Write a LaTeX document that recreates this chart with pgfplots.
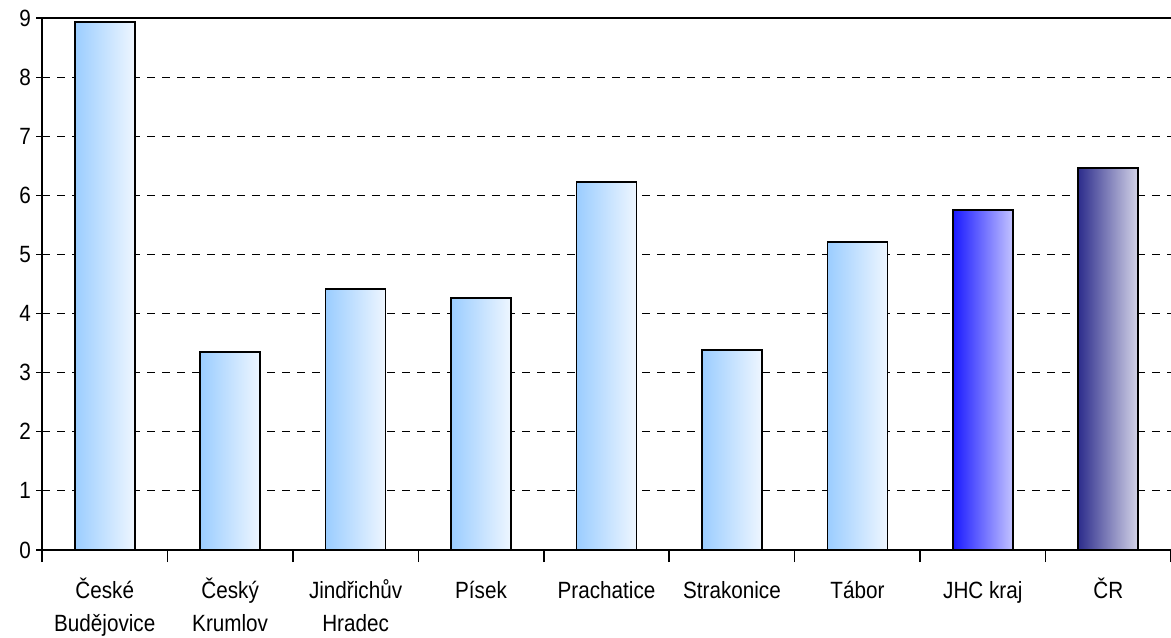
\documentclass[border=0pt]{standalone}
\usepackage{pgfplots}
\pgfplotsset{compat=1.18}
\usepackage{fontspec}
\setmainfont{Liberation Sans}[FakeStretch=0.88]
\definecolor{lb}{RGB}{155,205,255}
\definecolor{lw}{RGB}{238,246,255}
\definecolor{jb}{RGB}{25,25,255}
\definecolor{jw}{RGB}{195,195,255}
\definecolor{cb}{RGB}{45,45,140}
\definecolor{cw}{RGB}{212,212,232}
\begin{document}
\fontsize{21}{32}\selectfont
\begin{tikzpicture}
\begin{axis}[
  name=ax,
  scale only axis, width=1129pt, height=532pt,
  xmin=-0.5, xmax=8.5, ymin=0, ymax=9,
  axis x line*=bottom, axis y line*=left,
  axis line style={line width=1.5pt, -},
  ytick={0,1,...,8},
  extra y ticks={9},
  extra y tick style={grid style={solid, line width=1.6pt, black}},
  ymajorgrids,
  grid style={black, dash pattern=on 8pt off 7pt, line width=0.8pt},
  tick align=center,
  major tick length=12pt,
  y tick style={line width=1.2pt, black},
  xtick={-0.5,0.5,...,8.5},
  xticklabels={},
  x tick style={line width=1.5pt, black},
  extra x ticks={0,1,2,3,4,5,6,7,8},
  extra x tick labels={\strut České\\Budějovice, \strut Český\\Krumlov, \strut Jindřichův\\Hradec, \strut Písek, \strut Prachatice, \strut Strakonice, \strut Tábor, \strut JHC kraj, \strut ČR},
  extra x tick style={major tick length=0pt, grid=none},
  xticklabel style={align=center, yshift=-25pt, font=\fontsize{23.5}{33}\selectfont},
  yticklabel style={xshift=-5pt, font=\fontsize{23.5}{28}\selectfont},
  every tick label/.append style={inner sep=0pt},
  /pgf/number format/assume math mode=true,
  ybar, bar width=60pt,
  clip=false,
  every axis plot/.append style={bar shift=0pt, draw=black, line width=1.6pt},
]
\addplot[left color=lb, right color=lw] coordinates {(0,8.93)};
\addplot[left color=lb, right color=lw] coordinates {(1,3.35)};
\addplot[left color=lb, right color=lw] coordinates {(2,4.42)};
\addplot[left color=lb, right color=lw] coordinates {(3,4.26)};
\addplot[left color=lb, right color=lw] coordinates {(4,6.23)};
\addplot[left color=lb, right color=lw] coordinates {(5,3.38)};
\addplot[left color=lb, right color=lw] coordinates {(6,5.21)};
\addplot[left color=jb, right color=jw] coordinates {(7,5.75)};
\addplot[left color=cb, right color=cw] coordinates {(8,6.46)};
\end{axis}
\pgfresetboundingbox
\path ([xshift=-42pt,yshift=-87pt]ax.south west) rectangle ([yshift=18pt]ax.north east);
\end{tikzpicture}
\end{document}
